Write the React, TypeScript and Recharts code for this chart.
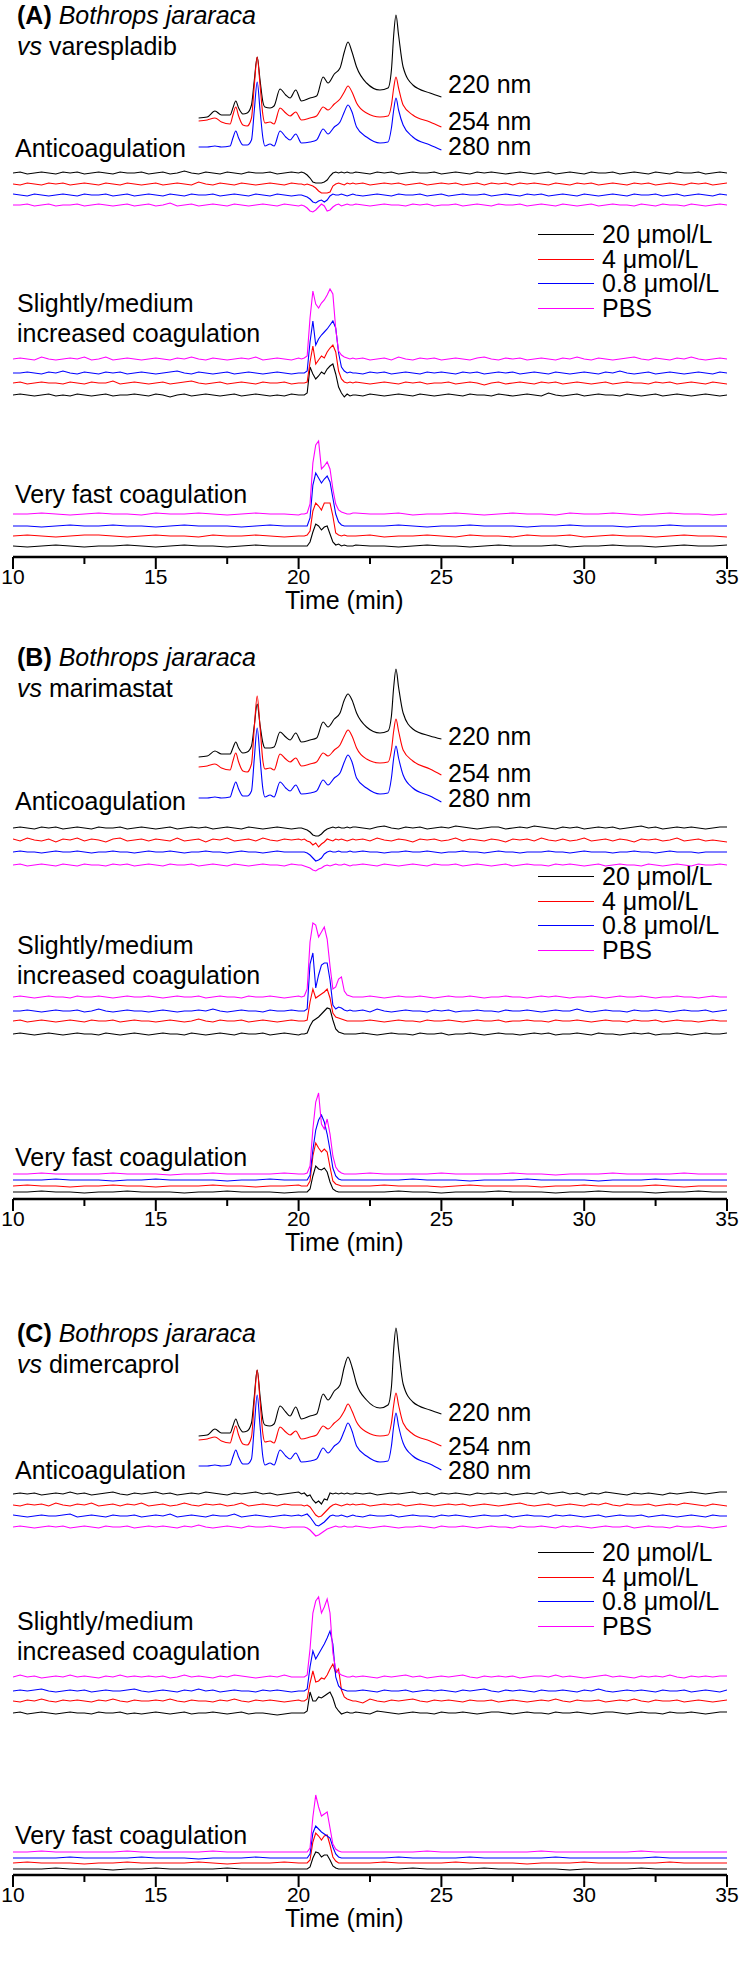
import React from "react";
import { LineChart, Line, XAxis, YAxis } from "recharts";

// bioassay time grid, fine sampling (min) - anticoagulation and slightly/medium traces
const fineTime = [
  10, 10.25, 10.5, 10.75, 11, 11.25, 11.5, 11.75, 12, 12.25, 12.5, 12.75, 13, 13.25, 13.5, 13.75, 14, 14.25, 14.5, 14.75,
  15, 15.25, 15.5, 15.75, 16, 16.25, 16.5, 16.75, 17, 17.25, 17.5, 17.75, 18, 18.25, 18.5, 18.75, 19, 19.25, 19.5, 19.75, 20,
  20.1, 20.2, 20.3, 20.4, 20.5, 20.6, 20.7, 20.8, 20.9, 21, 21.1, 21.2, 21.3, 21.4, 21.5, 21.6, 21.7, 21.8, 21.9,
  22, 22.25, 22.5, 22.75, 23, 23.25, 23.5, 23.75, 24, 24.25, 24.5, 24.75, 25, 25.25, 25.5, 25.75, 26, 26.25, 26.5, 26.75,
  27, 27.25, 27.5, 27.75, 28, 28.25, 28.5, 28.75, 29, 29.25, 29.5, 29.75, 30, 30.25, 30.5, 30.75, 31, 31.25, 31.5, 31.75,
  32, 32.25, 32.5, 32.75, 33, 33.25, 33.5, 33.75, 34, 34.25, 34.5, 34.75, 35,
];

// bioassay time grid, coarse sampling (min) - very fast coagulation traces
const coarseTime = [
  10, 10.5, 11, 11.5, 12, 12.5, 13, 13.5, 14, 14.5, 15, 15.5, 16, 16.5, 17, 17.5, 18, 18.5, 19, 19.5, 20,
  20.1, 20.2, 20.3, 20.4, 20.5, 20.6, 20.7, 20.8, 20.9, 21, 21.1, 21.2, 21.3, 21.4, 21.5, 21.6, 21.7, 21.8, 21.9,
  22, 22.5, 23, 23.5, 24, 24.5, 25, 25.5, 26, 26.5, 27, 27.5, 28, 28.5, 29, 29.5, 30, 30.5, 31, 31.5, 32, 32.5, 33, 33.5, 34, 34.5, 35,
];

// UV chromatogram time points (min)
const chromTime = [
  16.5, 16.8, 17.07, 17.3, 17.6, 17.7, 17.8, 17.9, 18.05, 18.2, 18.35, 18.45, 18.55, 18.65, 18.75, 18.82,
  19.0, 19.14, 19.35, 19.55, 19.7, 19.9, 20.1, 20.4, 20.63, 20.86, 21.03, 21.25, 21.45, 21.6, 21.73, 21.87,
  22.03, 22.38, 22.85, 23.13, 23.25, 23.33, 23.41, 23.5, 23.66, 24.0, 24.6, 25.0,
];

const xTicks = [10, 12.5, 15, 17.5, 20, 22.5, 25, 27.5, 30, 32.5, 35];

const wavelengths = ["220 nm", "254 nm", "280 nm"];
const doses = ["20 \u03bcmol/L", "4 \u03bcmol/L", "0.8 \u03bcmol/L", "PBS"];

// ---- panel A: varespladib ----
const aChrom220 = [0, 1, 7, 3, 3, 10, 17, 10, 4, 5, 13, 38, 61, 38, 16, 11, 10, 12, 29, 23, 20, 28, 17, 20, 22, 41, 35, 44, 50, 66, 76, 66, 51, 35, 28, 30, 48, 83, 103, 83, 51, 33, 25, 21];
const aChrom254 = [0, 1, 3, -1, -3, 6, 14, 5, -4, -5, 3, 36, 64, 36, 6, -2, -1, -3, 13, 8, 5, 9, 1, 3, 5, 14, 11, 17, 22, 29, 35, 29, 18, 8, 4, 5, 16, 33, 44, 33, 16, 6, -1, -6];
const aChrom280 = [0, 0, 1, 0, 1, 9, 16, 9, 2, 2, 7, 37, 65, 37, 9, 1, 3, 1, 16, 10, 7, 13, 4, 5, 7, 18, 13, 20, 25, 35, 42, 35, 20, 10, 4, 5, 19, 37, 49, 37, 22, 10, 2, -3];

const aAnti20 = [
  0, 1, -1, 0, 1, 0, -1, 1, 0, 1, -1, 0, 1, 0, -1, 1, 0, 0, 1, -1,
  0, 1, -1, 0, 2, 0, -1, 1, 0, -1, 1, 0, -1, 1, 0, 0, 1, -1, 0, 1, 0,
  1, 0, -2, -5, -9, -10, -10, -10, -9, -7, -3, 0, 1, 0, 1, 0, 1, 0, 0,
  1, 0, -1, 1, 0, 1, -1, 0, 1, 0, 0, 1, -1, 0, 1, 0, -1, 1, 0, 1,
  0, -1, 0, 1, 0, -1, 0, 1, -1, 0, 1, 0, -1, 1, 0, 0, 1, -1, 0, 1,
  0, -1, 1, 0, -1, 1, 0, 0, 1, -1, 0, 1, 0,
];
const aAnti4 = [
  0, -1, 1, 0, -1, 1, 0, 1, -1, 0, 1, 0, -1, 1, 0, -1, 1, 0, -1, 0,
  1, -1, 0, 1, 0, -1, 2, 0, -1, 1, 0, -1, 1, 0, -1, 0, 1, 0, -1, 1, 0,
  0, -1, 0, -1, -2, -4, -7, -9, -9, -9, -8, -2, 0, 1, 0, -1, 1, 0, 1,
  0, 1, -1, 0, 1, 0, 1, -1, 0, 1, -1, 0, 1, 0, 1, -1, 0, 1, -1, 1,
  0, 1, -1, 1, 0, 1, 0, -1, 1, 0, -1, 1, 0, 1, -1, 0, 1, 0, -1, 1,
  0, 1, -1, 0, 1, 0, -1, 1, 0, 1, -1, 0, 1,
];
const aAnti08 = [
  1, 0, -1, 1, 0, -1, 0, 1, 0, -1, 1, 0, 0, 1, -1, 0, 1, -1, 0, 1,
  0, -1, 1, 0, -1, 1, 0, 0, 1, -1, 0, 1, 0, -1, 1, 0, -1, 1, 0, -1, 0,
  0, -1, -2, -4, -7, -8, -6, -5, -7, -5, -1, 1, 0, 0, 1, 0, -1, 0, 1,
  0, -1, 0, 1, 0, -1, 1, 0, 0, 1, -1, 0, 1, -1, 0, 1, 0, 0, 1, -1,
  0, 1, 0, -1, 1, 0, 1, -1, 0, 1, 0, -1, 1, 0, -1, 0, 1, 0, -1, 1,
  0, 0, 1, -1, 0, 1, -1, 0, 1, 0, -1, 1, 0,
];
const aAntiPbs = [
  0, 0, 1, -1, 0, 1, -1, 0, 0, 1, -1, 0, 1, 0, -1, 0, 1, -1, 0, 1,
  -1, 0, 2, -1, 0, 1, -1, 0, 1, 0, -1, 1, 0, -1, 0, 1, 0, -1, 1, 0, -1,
  0, -1, -3, -6, -7, -5, -2, 1, -1, -6, -5, -2, 0, 1, -1, 0, 1, 0, 0,
  1, 0, -1, 0, 1, 0, 0, -1, 1, 0, 1, -1, 0, 0, 1, -1, 0, 1, 0, -1,
  1, 0, 0, 1, -1, 0, 1, 0, -1, 1, 0, -1, 0, 1, -1, 0, 1, 0, 0, -1,
  1, 0, -1, 1, 0, 0, -1, 1, 0, -1, 0, 1, 0,
];

const aSlow20 = [
  0, 1, 0, -1, 0, 1, -1, 0, -1, 1, 0, -1, 0, 1, -1, 0, 0, 1, 0, -1,
  1, 0, -2, 0, 1, -1, 0, 1, 0, -1, 0, 1, -1, 0, 1, 0, -1, 0, -1, 1, 0,
  0, 0, 2, 28, 21, 16, 19, 23, 21, 26, 29, 31, 21, 8, 2, -2, 1, -1, 0,
  0, -1, 1, 0, -1, 0, 1, 0, -1, 1, 0, -1, 0, 1, 0, -1, 1, 0, 0, -1,
  1, 0, -1, 0, 1, 0, -1, 2, 0, -1, 0, 1, -1, 0, 1, 0, 0, -1, 1, 0,
  -1, 0, 1, -1, 0, 1, 0, -1, 0, 1, 0, -1, 0,
];
const aSlow4 = [
  0, 1, -1, 0, 1, 0, 0, -1, 1, 0, -1, 1, 0, 0, 2, -1, 0, 1, 0, -1,
  0, 1, -1, 0, 1, 2, 0, -1, 0, 1, -1, 0, 1, 0, -1, 1, 0, 0, 1, -1, 0,
  0, 0, 1, 21, 37, 19, 23, 27, 25, 31, 35, 38, 31, 12, 4, 1, 0, 1, 0,
  1, 0, -1, 0, 1, 0, -1, 1, 0, 1, -1, 0, 0, 1, -1, 0, 1, 0, -2, 0,
  1, -1, 0, 1, 0, -1, 1, 0, 1, -1, 0, 1, 0, -1, 0, 1, -1, 0, 1, 0,
  0, -1, 1, 0, 1, -1, 0, 1, 0, -1, 1, 0, -1,
];
const aSlow08 = [
  0, 0, 1, 0, -1, 1, 0, 2, 0, -1, 1, 0, -1, 1, 0, 1, -1, 0, 1, 0,
  -1, 0, 1, 2, 0, -1, 1, 0, -1, 0, 1, -1, 0, 1, 0, -1, 0, 1, 0, -1, 0,
  0, 0, 2, 31, 52, 28, 34, 38, 41, 44, 48, 52, 45, 20, 6, 2, 0, 1, 0,
  0, -1, 1, 0, 1, -1, 0, 1, 0, -1, 1, 0, 1, 0, -1, 1, 0, 1, -1, 0,
  1, 0, 1, -1, 0, 1, 0, -1, 1, 0, -1, 0, 1, 0, -1, 1, 0, 2, 0, -1,
  0, 1, -1, 0, 1, 0, -1, 0, 1, 0, -1, 1, 0,
];
const aSlowPbs = [
  0, 1, 0, -1, 2, 0, -1, 0, 1, 0, 2, -1, 0, 2, -1, 0, 1, 0, -1, 0,
  1, 0, -1, 1, 0, 2, 0, -1, 1, 0, -1, 0, 1, 0, 2, -1, 0, 1, 0, -1, 1,
  0, 1, 3, 41, 68, 55, 51, 56, 59, 64, 70, 65, 30, 8, 4, 2, 1, 0, 1,
  0, 1, -1, 0, 1, -1, 2, 0, -1, 1, 0, 1, -1, 0, 1, 0, -1, 1, 2, 0,
  -1, 1, 0, 1, -1, 0, 1, 0, -1, 1, 0, 2, 0, -1, 1, 0, -1, 0, 1, 2,
  0, -1, 1, 0, -1, 1, 0, 2, 0, -1, 0, 1, 0,
];

const aFast20 = [
  0, -1, 0, 1, 0, -1, 0, 0, 1, 0, -1, 0, 1, 0, 0, -1, 0, 1, 0, 0, 0,
  0, 0, 0, 4, 14, 22, 20, 16, 19, 20, 12, 4, 1, 2, 0, 1, 0, 0, 0,
  1, 0, 0, -1, 0, 1, 0, 0, -1, 0, 1, 0, 0, 0, 1, -1, 0, 0, 1, 0, 0, -1, 0, 1, 0, 0, 1,
];
const aFast4 = [
  0, 1, 0, -1, 0, 1, 1, 0, -1, 0, 1, 0, 0, -1, 1, 0, 0, 1, 0, -1, 0,
  0, 0, 1, 5, 25, 33, 30, 26, 33, 33, 33, 20, 3, 1, 0, 1, 0, 0, 0,
  0, 1, -1, 0, 0, 1, 0, -1, 1, 0, 0, -1, 1, 0, 0, 1, -1, 0, 1, 0, 0, -1, 0, 1, 0, 0, -1,
];
const aFast08 = [
  0, 0, -1, 0, 1, 0, 0, 1, 0, 0, -1, 0, 1, 0, 0, 0, -1, 0, 1, 0, 0,
  0, 0, 0, 8, 41, 53, 48, 43, 47, 50, 44, 28, 12, 4, 1, 0, 0, 0, 0,
  0, 0, 0, 1, 0, -1, 0, 0, 1, 0, 0, 0, -1, 0, 0, 1, 0, 0, 0, -1, 0, 0, 1, 0, 0, 0, 0,
];
const aFastPbs = [
  0, 0, 1, 0, -1, 0, 1, 0, 0, -1, 1, 0, 0, 1, 0, -1, 0, 1, 0, 0, -1,
  0, 0, 1, 10, 51, 69, 73, 45, 48, 52, 45, 25, 10, 4, 2, 1, 0, 0, 1,
  1, 0, 0, 1, -1, 0, 0, 1, 0, -1, 0, 1, 0, 0, -1, 1, 0, 0, 1, 0, -1, 0, 1, 0, 0, -1, 0,
];

// ---- panel B: marimastat ----
const bChrom220 = [0, 1, 6, 3, 3, 9, 15, 9, 4, 5, 11, 32, 53, 32, 14, 9, 9, 10, 25, 20, 17, 24, 15, 17, 19, 35, 30, 38, 44, 57, 63, 57, 44, 30, 24, 26, 41, 70, 88, 70, 44, 28, 21, 18];
const bChrom254 = [0, 1, 3, -1, -3, 6, 14, 5, -4, -5, 3, 40, 71, 40, 6, -2, -1, -3, 13, 8, 5, 9, 1, 3, 5, 14, 11, 17, 22, 31, 37, 31, 19, 8, 4, 5, 17, 36, 48, 36, 17, 6, -2, -8];
const bChrom280 = [0, 0, 1, 0, 1, 9, 16, 9, 2, 2, 7, 40, 70, 40, 9, 1, 3, 1, 16, 10, 7, 13, 4, 5, 7, 18, 13, 20, 25, 36, 43, 36, 20, 10, 4, 5, 20, 40, 52, 40, 23, 10, 2, -4];

const bAnti20 = [
  0, 1, 0, -1, 1, 0, 1, -1, 0, 1, 0, -1, 1, 0, 0, 1, -1, 0, 1, 0,
  -1, 0, 1, -1, 0, 1, 0, 1, -1, 0, 1, 0, -1, 1, 0, -1, 0, 1, 0, -1, 0,
  0, -1, -2, -4, -7, -8, -8, -6, -3, -1, 0, 1, 0, 1, 0, 0, 1, 0, 1,
  1, 0, -1, 1, 2, 0, -1, 1, 0, 1, -1, 0, 1, 0, 2, 1, 0, -1, 0, 1,
  1, -1, 0, 1, 0, 2, 1, 0, -1, 1, 0, 1, -1, 0, 1, 0, 1, -1, 0, 1,
  2, 0, 1, -1, 0, 1, 0, 1, 0, -1, 0, 1, 1,
];
const bAnti4 = [
  1, -1, 2, 0, -1, 1, -2, 1, 0, 2, -1, 1, 0, -2, 1, 2, -1, 0, 1, -1,
  1, 0, -1, 2, -1, 0, 1, -2, 1, 0, 2, -1, 0, 1, -1, 2, 0, -1, 1, 0, 1,
  0, 1, -1, -2, -5, -3, -7, -4, -2, 1, 0, -1, 1, 0, 1, 0, -1, 0, 1,
  0, 1, -1, 2, 0, -1, 1, 0, -2, 1, 0, 1, -1, 0, 2, -1, 1, 0, -1, 1,
  0, -2, 1, 0, 1, -1, 2, 0, -1, 1, -1, 0, 2, -1, 0, 1, -1, 1, 0, -2,
  1, 0, 1, -1, 0, 2, -1, 0, 1, -1, 0, -1, -2,
];
const bAnti08 = [
  0, 1, 0, 0, -1, 0, 1, 0, 0, 1, 0, -1, 0, 0, 1, 0, 0, -1, 0, 1,
  0, 0, 1, 0, -1, 0, 0, 1, 0, 0, -1, 0, 1, 0, 0, -1, 0, 1, 0, 0, 0,
  0, 0, -1, -3, -6, -9, -8, -6, -2, 0, 1, 0, 0, 1, 0, 0, 0, 1, 0,
  0, 1, 0, 0, -1, 0, 0, 1, 0, 0, 1, 0, -1, 0, 0, 1, 0, 0, -1, 0,
  1, 0, 0, -1, 0, 0, 0, 1, 0, 0, -1, 0, 1, 0, 0, 0, -1, 0, 0, 1,
  0, 0, -1, 0, 1, 0, 0, 0, -1, 0, 0, 0, 0,
];
const bAntiPbs = [
  0, 1, -1, 0, 1, 0, -1, 1, 0, -1, 1, 0, 0, -1, 1, 0, 1, -1, 0, 1,
  0, -1, 1, 0, 0, 1, -1, 0, 1, 0, -1, 1, 0, -1, 0, 1, 0, 0, -1, 1, 0,
  0, -1, -2, -3, -5, -6, -4, -3, -1, 0, -1, 0, 1, 0, 0, 1, 0, -1, 0,
  0, 1, 0, -1, 1, 0, -1, 0, 1, 0, -1, 1, 0, 0, 1, -1, 0, 1, 0, -1,
  0, 1, -1, 0, 1, 0, 0, -1, 1, 0, 1, 0, -1, 0, 1, -1, 0, 1, 0, 0,
  -1, 1, 0, -1, 0, 1, 0, -1, 1, 0, 0, 1, 0,
];

const bSlow20 = [
  0, 1, 0, -1, 0, 1, 0, -1, 0, 1, 0, 0, -1, 1, 0, -1, 0, 1, 0, -1,
  0, 1, 0, 0, -1, 1, 0, -1, 0, 1, 0, -1, 1, 0, 0, 1, -1, 0, 1, 0, -1,
  0, 0, 1, 8, 13, 15, 17, 20, 23, 26, 25, 14, 5, 2, 1, 0, 0, 0, 0,
  0, 1, 0, -1, 0, 1, 0, 0, -1, 1, 0, 0, 1, -1, 0, 0, 1, 0, -1, 0,
  1, 0, 0, -1, 0, 1, 0, 1, -1, 0, 0, 1, 0, -1, 1, 0, 0, -1, 0, 1,
  0, 1, -1, 0, 0, 1, 0, -1, 0, 1, 0, 0, 1,
];
const bSlow4 = [
  0, 1, -1, 0, 1, 0, -1, 0, 1, 0, -1, 1, 0, 0, 1, -1, 0, 1, 0, 0,
  -1, 0, 1, 0, -1, 0, 2, 0, -1, 1, 0, 0, 1, -1, 0, 1, 0, -1, 0, 1, 0,
  0, 0, 1, 19, 32, 23, 25, 27, 29, 32, 23, 8, 4, 3, 2, 1, 0, 0, 0,
  0, 0, 1, 0, -1, 0, 1, 0, 0, -1, 1, 0, 0, 1, 0, -1, 0, 1, 0, 0,
  1, -1, 0, 0, 1, 0, 0, -1, 1, 0, 0, 1, 0, -1, 0, 1, 0, 0, -1, 1,
  0, 0, 1, -1, 0, 1, 0, 0, -1, 0, 1, 0, 0,
];
const bSlow08 = [
  0, 0, 1, 0, -1, 0, 1, 0, 0, 1, -1, 0, 2, 0, -1, 0, 1, 0, 0, -1,
  0, 1, 0, -1, 0, 0, 1, 0, 2, 0, -1, 0, 1, 0, 0, -1, 1, 0, 0, 1, 0,
  0, 0, 2, 47, 58, 23, 36, 46, 48, 48, 31, 6, 2, 4, 3, 1, 0, 1, 0,
  0, 1, -1, 2, 0, -1, 0, 1, 0, 0, -1, 1, 0, 1, -1, 0, 0, 1, 0, 0,
  -1, 1, 0, 0, 1, 0, -1, 0, 1, 0, 0, 2, 0, -1, 0, 1, 0, 0, -1, 1,
  0, 0, 1, 0, -1, 0, 1, 0, 0, 1, -1, 0, 1,
];
const bSlowPbs = [
  0, 1, 0, -1, 0, 1, 0, 0, -1, 1, 0, 0, 1, 0, -1, 0, 1, 0, 0, 1,
  0, -1, 0, 1, 0, 0, 1, -1, 0, 1, 0, 0, -1, 1, 0, 0, 1, 0, -1, 0, 1,
  0, 1, 8, 55, 74, 72, 60, 65, 70, 58, 31, 8, 10, 18, 20, 6, 2, 1, 0,
  0, 0, 1, 0, -1, 0, 1, 0, 0, 1, 0, -1, 0, 1, 0, 0, 1, 0, -1, 0,
  0, 1, 0, 0, -1, 0, 1, 0, 1, 0, -1, 0, 0, 1, 0, -1, 0, 1, 0, 0,
  1, 0, -1, 0, 0, 1, 0, 0, -1, 0, 1, 0, 0,
];

const bFast20 = [
  0, 0, 1, 0, 0, -1, 0, 0, 1, 0, 0, 0, -1, 0, 0, 1, 0, 0, 0, -1, 0,
  0, 0, 0, 3, 16, 26, 23, 22, 24, 20, 10, 3, 1, 0, 0, 0, 0, 0, 0,
  0, 0, 0, 1, 0, 0, -1, 0, 0, 0, 1, 0, 0, 0, -1, 0, 0, 1, 0, 0, 0, -1, 0, 0, 1, 0, 0,
];
const bFast4 = [
  0, 1, 0, 0, -1, 0, 0, 1, 0, 0, -1, 0, 0, 0, 1, 0, 0, -1, 0, 0, 1,
  0, 0, 0, 5, 30, 43, 38, 34, 37, 34, 19, 5, 2, 1, 0, 0, 0, 0, 0,
  0, 0, 1, 0, 0, 0, -1, 0, 1, 0, 0, 0, 0, -1, 0, 0, 1, 0, 0, 0, 0, 1, 0, -1, 0, 0, 0,
];
const bFast08 = [
  0, 0, 0, 1, 0, 0, 0, -1, 0, 0, 1, 0, 0, 0, 0, -1, 0, 0, 1, 0, 0,
  0, 0, 0, 5, 30, 50, 60, 65, 58, 46, 30, 12, 4, 1, 0, 0, 0, 0, 0,
  0, 0, 0, 0, 1, 0, 0, 0, -1, 0, 0, 0, 1, 0, 0, 0, 0, -1, 0, 0, 0, 1, 0, 0, 0, 0, 0,
];
const bFastPbs = [
  0, 0, 1, 0, 0, 0, 0, 1, 0, 0, 0, -1, 0, 0, 1, 0, 0, 0, 0, 1, 0,
  0, 0, 1, 8, 45, 72, 81, 50, 45, 55, 40, 18, 7, 3, 1, 0, 0, 0, 0,
  0, 1, 0, 0, 0, 0, 1, 0, 0, 0, 0, 1, 0, 0, -1, 0, 0, 0, 1, 0, 0, 0, 0, 1, 0, 0, 0,
];

// ---- panel C: dimercaprol ----
const cChrom220 = [0, 1, 7, 3, 3, 10, 17, 10, 4, 5, 13, 40, 66, 40, 16, 11, 10, 12, 30, 24, 20, 29, 17, 20, 22, 42, 36, 45, 51, 69, 79, 69, 52, 36, 28, 31, 49, 87, 108, 87, 52, 34, 26, 22];
const cChrom254 = [0, 1, 3, -1, -3, 6, 14, 5, -4, -5, 3, 39, 70, 39, 6, -2, -1, -3, 13, 8, 5, 9, 1, 3, 5, 14, 11, 17, 22, 29, 36, 29, 18, 8, 4, 5, 17, 35, 47, 35, 17, 6, -1, -6];
const cChrom280 = [0, 0, 1, 0, 1, 9, 16, 9, 2, 2, 7, 40, 71, 40, 9, 1, 3, 1, 16, 10, 7, 13, 4, 5, 7, 18, 13, 20, 25, 35, 43, 35, 20, 10, 4, 5, 20, 40, 53, 40, 23, 10, 2, -4];

const cAnti20 = [
  0, 1, 0, 1, -1, 0, 1, 0, 2, 0, 1, -1, 0, 1, 2, 0, -1, 1, 0, 1,
  2, 0, 1, -1, 0, 1, 0, 2, 1, 0, -1, 1, 0, 1, 2, 0, 1, -1, 0, 1, 2,
  0, 1, -2, -1, -6, -9, -7, -10, -5, -6, 1, 0, 1, 0, 1, 0, 1, 0, 0,
  1, 0, 1, -1, 0, 1, 0, 1, 2, 0, 1, -1, 1, 0, 1, 0, -1, 1, 0, 1,
  0, 1, -1, 0, 1, 0, 2, 0, 1, 2, 0, 1, -1, 1, 0, 2, 1, 0, -1, 1,
  0, 1, 0, -1, 1, 0, 1, 2, 1, 0, 1, 2, 2,
];
const cAnti4 = [
  0, -1, 1, 0, 1, -1, 2, 0, -1, 1, 0, 2, -1, 0, 1, -1, 1, 0, 2, -1,
  0, 1, -1, 0, 2, 0, -1, 1, 0, 1, -1, 0, 2, -1, 0, 1, 0, -1, 1, 0, 0,
  0, -1, 0, -2, -6, -10, -12, -11, -8, -5, -2, 0, 1, 0, -1, 0, 1, 0, 1,
  0, 1, -1, 0, 1, 0, 1, -1, 0, 1, 0, -1, 0, 1, 0, 1, -1, 0, 1, 0,
  -1, 0, 1, 2, 0, -1, 0, 1, -1, 0, 1, 0, -1, 1, 0, 2, 0, -1, 1, 0,
  0, 1, -1, 0, 1, 0, 2, 1, 0, -1, 1, 0, -1,
];
const cAnti08 = [
  1, 0, -1, 0, 1, 0, 0, 1, 2, -1, 0, 1, 0, -1, 1, 0, 0, 1, -1, 0,
  1, 0, 2, -1, 0, 1, 0, -1, 1, 0, 0, 2, -1, 0, 1, 0, -1, 0, 1, 0, 1,
  0, 1, 2, -1, -5, -9, -10, -8, -6, -3, 0, 1, 0, 0, 1, 0, -1, 0, 1,
  0, -1, 1, 0, 0, 1, -1, 0, 1, 0, 0, -1, 1, 0, 1, 0, -1, 0, 1, 0,
  0, 1, -1, 0, 1, 0, 0, -1, 1, 0, 1, 0, -1, 0, 1, -1, 0, 1, 0, 0,
  1, -1, 0, 1, 0, -1, 0, 1, 0, -1, 1, 0, 0,
];
const cAntiPbs = [
  0, 1, 0, -1, 0, 1, 0, 1, -1, 0, 1, 0, -1, 1, 0, 0, 1, -1, 0, 1,
  0, 1, 0, -1, 1, 0, 2, 0, -1, 0, 1, 0, -1, 1, 0, 0, 1, 0, -1, 0, 0,
  0, 0, -1, -3, -6, -9, -8, -6, -4, -2, -1, 0, 1, 0, 0, 1, 0, 0, 0,
  1, 0, -1, 0, 1, 0, -1, 0, 0, 1, 0, -1, 1, 0, 0, 1, 0, -1, 0, 1,
  0, 0, -1, 1, 0, 0, 1, 0, -1, 1, 0, 1, 0, -1, 0, 1, 0, 0, 1, -1,
  0, 1, 0, 0, -1, 1, 0, 0, 1, 0, -1, 0, 1,
];

const cSlow20 = [
  0, 1, -1, 0, 1, 0, -1, 0, 1, 0, 0, -1, 1, 0, 0, 1, -1, 0, -1, 0,
  1, 0, -1, 0, 1, -1, 0, 0, 1, 0, -1, 0, 1, -1, 0, 0, -1, -2, -1, 0, 0,
  0, 0, 2, 21, 12, 12, 16, 15, 17, 19, 21, 15, 6, 2, -1, 0, 1, 0, 0,
  1, 0, -1, 2, 1, 0, -1, 0, 1, 0, 0, -1, 1, 0, 0, 1, 0, -1, 0, 1,
  1, 0, -1, 0, 1, 0, 0, -1, 1, 0, 0, 1, 0, -1, 0, 1, 1, 0, -1, 0,
  1, 0, 0, -1, 1, 0, 0, 1, 0, -1, 0, 1, 1,
];
const cSlow4 = [
  0, -1, 1, 0, 2, 0, -1, 1, 0, 1, 0, -1, 1, 0, 2, 0, -1, 1, 0, 0,
  1, 0, 2, 0, -1, 1, 0, 0, -1, 1, 0, 2, 0, -1, 1, 0, 1, 0, -1, 0, 1,
  0, 0, 2, 18, 30, 19, 20, 23, 22, 26, 32, 37, 28, 32, 11, 4, 2, 1, 0,
  0, -2, 2, 0, -1, 1, 0, 1, 2, 0, -1, 1, 0, 1, 0, -1, 1, 0, 0, 1,
  -1, 0, 1, 0, -1, 0, 1, 0, 2, 0, -1, 1, 0, 0, 1, -1, 0, 1, 0, 2,
  0, -1, 1, 0, 0, 1, -1, 0, 1, 0, -1, 0, 1,
];
const cSlow08 = [
  0, 1, 0, 1, 2, 0, -1, 0, 1, 0, 1, -1, 0, 1, 0, 0, 1, 2, 0, -1,
  0, 1, 0, -1, 1, 0, 2, 0, 1, -1, 0, 1, 0, 0, -1, 1, 0, 1, 0, -1, 0,
  0, 0, 2, 24, 40, 32, 37, 42, 47, 53, 60, 47, 14, 5, 2, 1, 0, 0, 0,
  0, 1, 0, -1, 1, 0, 0, 1, -1, 0, 1, 0, 1, 0, -1, 1, 0, 1, 2, 0,
  -1, 1, 0, 1, 0, -1, 1, 0, 0, 1, 0, -1, 1, 0, 2, 0, -1, 0, 1, 0,
  1, 0, -1, 1, 0, 0, 1, -1, 0, 1, 0, -1, 1,
];
const cSlowPbs = [
  0, 2, 0, 1, -1, 0, 1, 0, 2, 0, 1, 0, -1, 1, 0, 2, 0, 1, 0, 1,
  0, 1, -1, 0, 2, 0, 1, 0, -1, 1, 0, 2, 1, 0, -1, 0, 1, 0, 2, 0, 0,
  0, 0, 2, 28, 64, 76, 80, 64, 70, 78, 64, 24, 8, 4, 2, 1, 0, 0, 1,
  0, 1, 0, -1, 1, 0, 1, 2, 0, 1, -1, 0, 1, 0, 1, 2, 0, -1, 1, 0,
  1, 0, 1, -1, 0, 1, 1, 0, 2, 0, 1, 0, -1, 0, 1, 2, 0, 1, 0, -1,
  1, 0, 1, 0, 2, 0, -1, 1, 0, 1, 0, 1, 1,
];

const cFast20 = [
  0, 0, 0, 1, 0, 0, 0, -1, 0, 0, 1, 0, 0, 0, 0, 1, 0, 0, 0, 0, 0,
  0, 0, 0, 2, 11, 17, 16, 12, 14, 14, 9, 3, 1, 0, 0, 0, 0, 0, 0,
  0, 0, 0, 0, 1, 0, 0, 0, 0, 1, 0, 0, 0, 0, 0, -1, 0, 0, 0, 0, 1, 0, 0, 0, 0, 0, 0,
];
const cFast4 = [
  0, 1, 0, 0, 0, -1, 0, 0, 1, 0, 0, 0, 0, 1, 0, -1, 0, 0, 0, 1, 0,
  0, 0, 0, 3, 21, 30, 27, 23, 27, 28, 18, 6, 2, 0, 0, 0, 0, 0, 0,
  0, 0, 1, 0, 0, 0, 0, 1, 0, 0, 0, 0, -1, 0, 0, 0, 1, 0, 0, 0, 0, 0, 1, 0, 0, 0, 0,
];
const cFast08 = [
  0, 0, 0, 0, 1, 0, 0, 0, 0, 1, 0, 0, 0, -1, 0, 0, 0, 1, 0, 0, 0,
  0, 0, 0, 4, 25, 32, 29, 26, 24, 22, 20, 11, 4, 1, 0, 0, 0, 0, 0,
  0, 0, 0, 1, 0, 0, 0, 0, 1, 0, 0, 0, 0, 0, 1, 0, 0, 0, 0, 0, 0, 1, 0, 0, 0, 0, 0,
];
const cFastPbs = [
  0, 0, 1, 0, 0, 0, 0, 0, 1, 0, 0, 0, 0, 0, 1, 0, 0, 0, 0, 0, 0,
  0, 0, 0, 4, 35, 57, 45, 36, 38, 40, 24, 8, 3, 1, 0, 0, 0, 0, 0,
  0, 0, 0, 0, 0, 1, 0, 0, 0, 0, 0, 0, 0, 1, 0, 0, 0, 0, 0, 0, 1, 0, 0, 0, 0, 0, 0,
];

const BLACK = "#000000";
const RED = "#ff0000";
const BLUE = "#0000ff";
const MAGENTA = "#ff00ff";
const FONT = "'Liberation Sans', Arial, Helvetica, sans-serif";

const AXIS_Y = 557;
const CHART_H = 600;

type Trace = { t: number[]; v: number[]; base: number; color: string; smooth?: boolean };

type PanelProps = {
  top: number;
  letter: string;
  drug: string;
  chrom: number[][];
  chromBase: number[];
  nmY: number[];
  antiLabelY: number;
  anti: number[][];
  antiBase: number[];
  slow: number[][];
  slowBase: number[];
  fast: number[][];
  fastBase: number[];
  fastLabelY: number;
};

function TimeTick(props: any) {
  const { x, y, payload } = props;
  const major = payload.value % 5 === 0;
  return (
    <g>
      <line x1={x} x2={x} y1={y} y2={y + (major ? 12 : 7)} stroke="#000" strokeWidth={2} />
      {major && (
        <text x={x} y={y + 27} textAnchor="middle" fontSize={21} fontFamily={FONT} fill="#000">
          {payload.value}
        </text>
      )}
    </g>
  );
}

const txt: React.CSSProperties = {
  position: "absolute",
  fontFamily: FONT,
  fontSize: 25,
  lineHeight: "22px",
  color: "#000",
  whiteSpace: "nowrap",
};

function Panel(p: PanelProps) {
  const colors4 = [BLACK, RED, BLUE, MAGENTA];
  const traces: Trace[] = [];
  p.chrom.forEach((v, i) =>
    traces.push({ t: chromTime, v, base: p.chromBase[i], color: colors4[i], smooth: true })
  );
  p.anti.forEach((v, i) => traces.push({ t: fineTime, v, base: p.antiBase[i], color: colors4[i] }));
  p.slow.forEach((v, i) => traces.push({ t: fineTime, v, base: p.slowBase[i], color: colors4[i] }));
  p.fast.forEach((v, i) => traces.push({ t: coarseTime, v, base: p.fastBase[i], color: colors4[i] }));

  return (
    <div style={{ position: "absolute", left: 0, top: p.top, width: 742, height: 615 }}>
      <LineChart width={742} height={CHART_H} margin={{ top: 0, right: 15, bottom: 0, left: 13 }}>
        <XAxis
          dataKey="t"
          type="number"
          domain={[10, 35]}
          ticks={xTicks}
          interval={0}
          tickSize={0}
          tickMargin={0}
          tick={<TimeTick />}
          height={CHART_H - AXIS_Y}
          axisLine={{ stroke: "#000", strokeWidth: 2.5 }}
          allowDataOverflow
        />
        <YAxis hide type="number" domain={[-AXIS_Y, 0]} allowDataOverflow />
        {traces.map((tr, i) => (
          <Line
            key={i}
            data={tr.t.map((t, j) => ({ t, y: (tr.v[j] ?? 0) - tr.base }))}
            dataKey="y"
            type={tr.smooth ? "monotone" : "linear"}
            stroke={tr.color}
            strokeWidth={1.1}
            dot={false}
            activeDot={false}
            isAnimationActive={false}
          />
        ))}
      </LineChart>

      <div style={{ ...txt, left: 17, top: 4 }}>
        <b>({p.letter})</b> <i>Bothrops jararaca</i>
      </div>
      <div style={{ ...txt, left: 17, top: 35 }}>
        <i>vs</i> {p.drug}
      </div>
      {wavelengths.map((w, i) => (
        <div key={w} style={{ ...txt, left: 448, top: p.nmY[i] - 11 }}>
          {w}
        </div>
      ))}
      <div style={{ ...txt, left: 15, top: p.antiLabelY - 11 }}>Anticoagulation</div>
      {doses.map((d, i) => (
        <div key={d} style={{ position: "absolute", left: 538, top: 234 + i * 24.5 - 11, height: 22 }}>
          <div
            style={{ position: "absolute", left: 0, top: 11, width: 56, height: 0, borderTop: `1.3px solid ${colors4[i]}` }}
          />
          <div style={{ ...txt, left: 64, top: 0 }}>{d}</div>
        </div>
      ))}
      <div style={{ ...txt, left: 17, top: 303 - 11 }}>Slightly/medium</div>
      <div style={{ ...txt, left: 17, top: 333 - 11 }}>increased coagulation</div>
      <div style={{ ...txt, left: 15, top: p.fastLabelY - 11 }}>Very fast coagulation</div>
      <div style={{ ...txt, left: 285, top: AXIS_Y + 32 }}>Time (min)</div>
    </div>
  );
}

export default function App() {
  return (
    <div style={{ position: "absolute", left: 0, top: 0, width: 742, height: 1963, background: "#fff" }}>
      <Panel
        top={0}
        letter="A"
        drug="varespladib"
        chrom={[aChrom220, aChrom254, aChrom280]}
        chromBase={[118, 121, 147]}
        nmY={[84, 121, 146]}
        antiLabelY={148}
        anti={[aAnti20, aAnti4, aAnti08, aAntiPbs]}
        antiBase={[173, 184, 195, 205]}
        slow={[aSlow20, aSlow4, aSlow08, aSlowPbs]}
        slowBase={[395, 383, 373, 359]}
        fast={[aFast20, aFast4, aFast08, aFastPbs]}
        fastBase={[546, 536, 526, 514]}
        fastLabelY={494}
      />
      <Panel
        top={642}
        letter="B"
        drug="marimastat"
        chrom={[bChrom220, bChrom254, bChrom280]}
        chromBase={[115, 125, 156]}
        nmY={[94, 131, 156]}
        antiLabelY={159}
        anti={[bAnti20, bAnti4, bAnti08, bAntiPbs]}
        antiBase={[186, 198, 210, 223]}
        slow={[bSlow20, bSlow4, bSlow08, bSlowPbs]}
        slowBase={[392, 379, 369, 355]}
        fast={[bFast20, bFast4, bFast08, bFastPbs]}
        fastBase={[550, 544, 538, 532]}
        fastLabelY={515}
      />
      <Panel
        top={1318}
        letter="C"
        drug="dimercaprol"
        chrom={[cChrom220, cChrom254, cChrom280]}
        chromBase={[118, 122, 148]}
        nmY={[94, 128, 152]}
        antiLabelY={152}
        anti={[cAnti20, cAnti4, cAnti08, cAntiPbs]}
        antiBase={[176, 187, 198, 209]}
        slow={[cSlow20, cSlow4, cSlow08, cSlowPbs]}
        slowBase={[395, 383, 373, 359]}
        fast={[cFast20, cFast4, cFast08, cFastPbs]}
        fastBase={[551, 545, 540, 534]}
        fastLabelY={517}
      />
    </div>
  );
}
